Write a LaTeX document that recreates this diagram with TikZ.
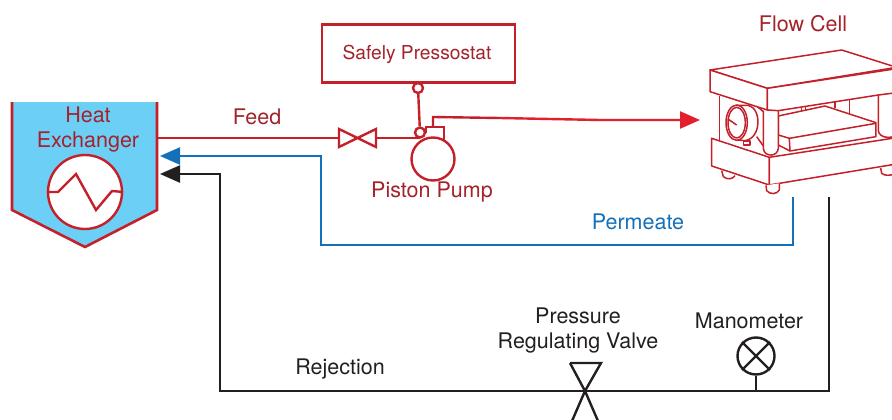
\documentclass[tikz,border=0pt]{standalone}
\usepackage{fontspec}
\setmainfont{TeX Gyre Heros}
\usetikzlibrary{arrows.meta}
\definecolor{rd}{HTML}{C4202A}
\definecolor{brd}{HTML}{E21F2B}
\definecolor{trd}{HTML}{A3222C}
\definecolor{blu}{HTML}{1470B8}
\definecolor{blk}{HTML}{231F20}
\definecolor{sky}{HTML}{6CCFF6}
\tikzset{
 pipe/.style={line width=2.4pt,line join=miter},
 rpipe/.style={pipe,draw=rd},
 lbl/.style={font=\fontsize{21.5}{26}\selectfont,inner sep=0pt,anchor=center,align=center},
 tip/.style={-{Triangle[length=20pt,width=17pt]}},
 port/.style={circle,draw=rd,line width=2.4pt,fill=white,minimum size=10pt,inner sep=0pt},
 cell/.style={draw=rd,line width=1.5pt,line join=round,fill=white},
 cellline/.style={draw=rd,line width=1.5pt,line join=round},
}
\begin{document}
\begin{tikzpicture}[x=1pt,y=-1pt]
\useasboundingbox (0,0) rectangle (892,420);
% heat exchanger
\fill[sky] (12,102) -- (157,102) -- (157,210) -- (85,247) -- (12,210) -- cycle;
\draw[rpipe,line width=2.6pt] (12,102) -- (12,210) -- (85,247) -- (157,210) -- (157,102);
\node[circle,draw=rd,line width=2.4pt,fill=white,minimum size=74pt,inner sep=0pt] (hxc) at (85,192) {};
\draw[rpipe] (hxc.west) -- (58,192) -- (76,174) -- (96,210) -- (112,191) -- (hxc.east);
\node[lbl,text=trd] (heat) at (88,115) {Heat};
\node[lbl,text=trd] (exch) at (88,142) {Exchanger};
\coordinate (hxf) at (157,138);
\coordinate (hxb) at (160,156);
\coordinate (hxk) at (160,174);
% valve on feed
\draw[rpipe] (339,129) -- (339,147) -- (376,129) -- (376,147) -- cycle;
\coordinate (vl) at (339,138);
\coordinate (vr) at (376,138);
\draw[rpipe] (hxf) -- (vl);
\node[lbl,text=trd] (feed) at (257,117) {Feed};
% pressostat
\node[draw=rd,line width=2.4pt,minimum width=193pt,minimum height=58pt,inner sep=0pt] (press) at (418.5,53.5) {};
\node[inner sep=0pt,font=\fontsize{19.2}{23}\selectfont,text=trd] (presst) at (417,54.5) {Safely Pressostat};
\node[port] (p1) at (418,88) {};
\node[port] (p2) at (420,132.5) {};
\draw[rpipe] (press.south -| p1) -- (p1);
\draw[rpipe] (p1) -- (p2);
\draw[rpipe] (vr) -- (p2.south |- vr);
% pump
\draw[rpipe] (p2.east) -- (p2.east |- 0,127) -- (444,127) -- (444,141);
\node[circle,draw=rd,line width=2.4pt,fill=white,minimum size=43pt,inner sep=0pt] (pump) at (433,159) {};
\coordinate (pt) at (433,127);
\coordinate (fc) at (700,120);
\draw[rpipe] (pt) -- (433,117) -- (500,118);
\draw[pipe,draw=brd] (500,118) -- (600,120) -- (680,120);
\draw[pipe,draw=brd,tip] (670,120) -- (fc);
\node[lbl,text=trd] (pp) at (432,192.5) {Piston Pump};
% flow cell
\begin{scope}
\clip (690,0) rectangle (892,420);
\begin{scope}[shift={(690,40)},x=0.3333pt,y=-0.3333pt]
 % rear parts
 \draw[cellline] (435,185) -- (435,205);
 \draw[cellline] (478,180) -- (478,222);
 \draw[cellline] (335,200) -- (335,212) (346,198) -- (346,210);
 % bottom block
 \draw[cell] (65,295) -- (65,378) -- (238,435) -- (238,352) -- cycle;
 \draw[cell] (238,352) -- (620,293) -- (620,372) -- (238,435) -- cycle;
 \draw[cell] (95,392) -- (100,410) .. controls (112,420) and (128,418) .. (135,407);
 \draw[cell] (228,436) -- (230,452) .. controls (240,464) and (260,464) .. (268,450) -- (268,430);
 \draw[cellline] (572,384) -- (575,400) .. controls (585,408) and (600,408) .. (620,400);
 % inner
 \draw[cellline] (88,168) -- (88,300);
 \draw[cellline] (190,190) -- (220,215) (200,290) -- (220,318);
 % slab
 \draw[cell] (265,228) -- (405,198) -- (558,248) -- (558,290) -- (300,333) -- (298,295) -- (265,285) -- cycle;
 \draw[cellline] (298,295) -- (558,250);
 \draw[cellline] (265,315) -- (300,333);
 % dial
 \draw[cell] (175,196) .. controls (215,205) and (215,295) .. (165,302) -- (140,300) -- (140,196) -- cycle;
 \draw[cell] (140,248) ellipse [x radius=32,y radius=53];
 \draw[cellline] (140,248) ellipse [x radius=26,y radius=46];
 \draw[cellline] (115,238) -- (140,255);
 \draw[cell] (160,303) rectangle (180,315);
 % columns
 \draw[cell] (220,212) -- (220,325) .. controls (222,352) and (263,352) .. (265,325) -- (265,212);
 \draw[cell] (565,165) -- (565,272) .. controls (568,296) and (606,296) .. (620,285) -- (620,160);
 % top block
 \draw[cell] (60,90) -- (455,30) -- (620,82) -- (232,145) -- cycle;
 \draw[cell] (60,90) -- (60,155) -- (232,210) -- (232,145) -- cycle;
 \draw[cell] (232,145) -- (620,86) -- (620,158) -- (565,165) -- (265,212) -- (232,210) -- cycle;
\end{scope}
\end{scope}
\node[lbl,text=trd] (fl) at (803,23.5) {Flow Cell};
% permeate
\coordinate (pe) at (793,197);
\draw[pipe,draw=blu] (pe) -- (793,245) -- (321,245) -- (321,156) -- (175,156);
\draw[pipe,draw=blu,tip] (180,156) -- (hxb);
\node[lbl,text=blu] (perm) at (638,221.5) {Permeate};
% rejection
\coordinate (re) at (829,197);
\draw[pipe,draw=blk] (re) -- (829,391) -- (220,391) -- (220,174) -- (175,174);
\draw[pipe,draw=blk,tip] (180,174) -- (hxk);
\node[lbl,text=blk] (rej) at (340,369.5) {Rejection};
% regulating valve
\coordinate (rv) at (585,391);
\draw[pipe,draw=blk] (570,363) -- (601,363) -- (rv) -- (572,421);
\draw[pipe,draw=blk] (570,363) -- (rv) -- (598,421);
\node[lbl,text=blk] (prv1) at (578,316) {Pressure};
\node[lbl,text=blk] (prv2) at (578,343) {Regulating Valve};
% manometer
\node[circle,draw=blk,line width=2.4pt,minimum size=37pt,inner sep=0pt] (man) at (756,356) {};
\draw[pipe,draw=blk] (man.north west) -- (man.south east) (man.north east) -- (man.south west);
\coordinate (mb) at (756,391);
\draw[pipe,draw=blk] (man.south) -- (mb);
\node[lbl,text=blk] (mt) at (749,321) {Manometer};
\end{tikzpicture}
\end{document}
